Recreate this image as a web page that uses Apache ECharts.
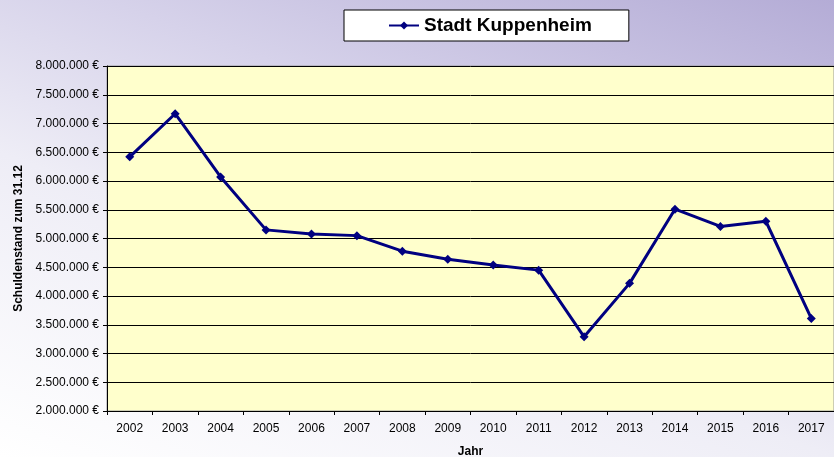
<!DOCTYPE html>
<html>
<head>
<meta charset="utf-8">
<script src="https://cdn.jsdelivr.net/npm/echarts@6/dist/echarts.min.js"></script>
<style>
  html, body { margin: 0; padding: 0; }
  #main {
    width: 834px; height: 457px;
    background: linear-gradient(200deg, #b4acd6 0%, #d6d2ea 35%, #eeedf6 60%, #ffffff 100%);
  }
</style>
</head>
<body>
<div id="main"></div>
<script>
  // Daten
  var jahre = ['2002','2003','2004','2005','2006','2007','2008','2009','2010','2011','2012','2013','2014','2015','2016','2017'];
  var schuldenstand = [6420000, 7170000, 6070000, 5150000, 5080000, 5050000, 4780000, 4640000, 4540000, 4450000, 3290000, 4220000, 5510000, 5210000, 5300000, 3610000];
  var yMin = 2000000;
  var yMax = 8000000;
  var yStep = 500000;

  function euro(v) {
    return String(v).replace(/\B(?=(\d{3})+(?!\d))/g, '.') + ' €';
  }

  var myChart = echarts.init(document.getElementById('main'));
  var option = {
    backgroundColor: 'transparent',
    textStyle: { fontFamily: 'Arial, "Liberation Sans", sans-serif' },
    legend: {
      left: 344,
      top: 10,
      padding: [6, 37, 6, 44],
      backgroundColor: '#ffffff',
      borderColor: '#000000',
      borderWidth: 1,
      borderRadius: 0,
      itemWidth: 30,
      itemHeight: 10,
      itemGap: 5,
      textStyle: { fontSize: 19, fontWeight: 'bold', color: '#000' },
      data: ['Stadt Kuppenheim']
    },
    grid: {
      left: 107,
      top: 66,
      right: 0,
      bottom: 46,
      outerBoundsMode: 'none',
      show: true,
      backgroundColor: '#ffffcc',
      borderColor: '#9a9a9a',
      borderWidth: 1
    },
    xAxis: {
      type: 'category',
      boundaryGap: true,
      data: jahre,
      name: 'Jahr',
      nameLocation: 'middle',
      nameGap: 35,
      nameTextStyle: { fontSize: 12, fontWeight: 'bold', color: '#000' },
      axisLine: { lineStyle: { color: '#000', width: 1 } },
      axisTick: { show: true, interval: 0, length: 4, lineStyle: { color: '#000' } },
      axisLabel: { fontSize: 12, color: '#000', margin: 12, interval: 0 }
    },
    yAxis: {
      type: 'value',
      min: yMin,
      max: yMax,
      interval: yStep,
      name: 'Schuldenstand zum 31.12',
      nameLocation: 'middle',
      nameGap: 81,
      nameTextStyle: { fontSize: 12, fontWeight: 'bold', color: '#000' },
      axisLine: { show: true, lineStyle: { color: '#000', width: 1 } },
      axisTick: { show: true, length: 4, lineStyle: { color: '#000' } },
      axisLabel: { fontSize: 12, color: '#000', margin: 8, formatter: euro },
      splitLine: { show: true, lineStyle: { color: '#000', width: 1 } }
    },
    series: [
      {
        name: 'Stadt Kuppenheim',
        type: 'line',
        data: schuldenstand,
        symbol: 'diamond',
        symbolSize: 9,
        lineStyle: { color: '#000080', width: 3 },
        itemStyle: { color: '#000080' },
        animation: false
      }
    ]
  };
  myChart.setOption(option);
</script>
</body>
</html>
